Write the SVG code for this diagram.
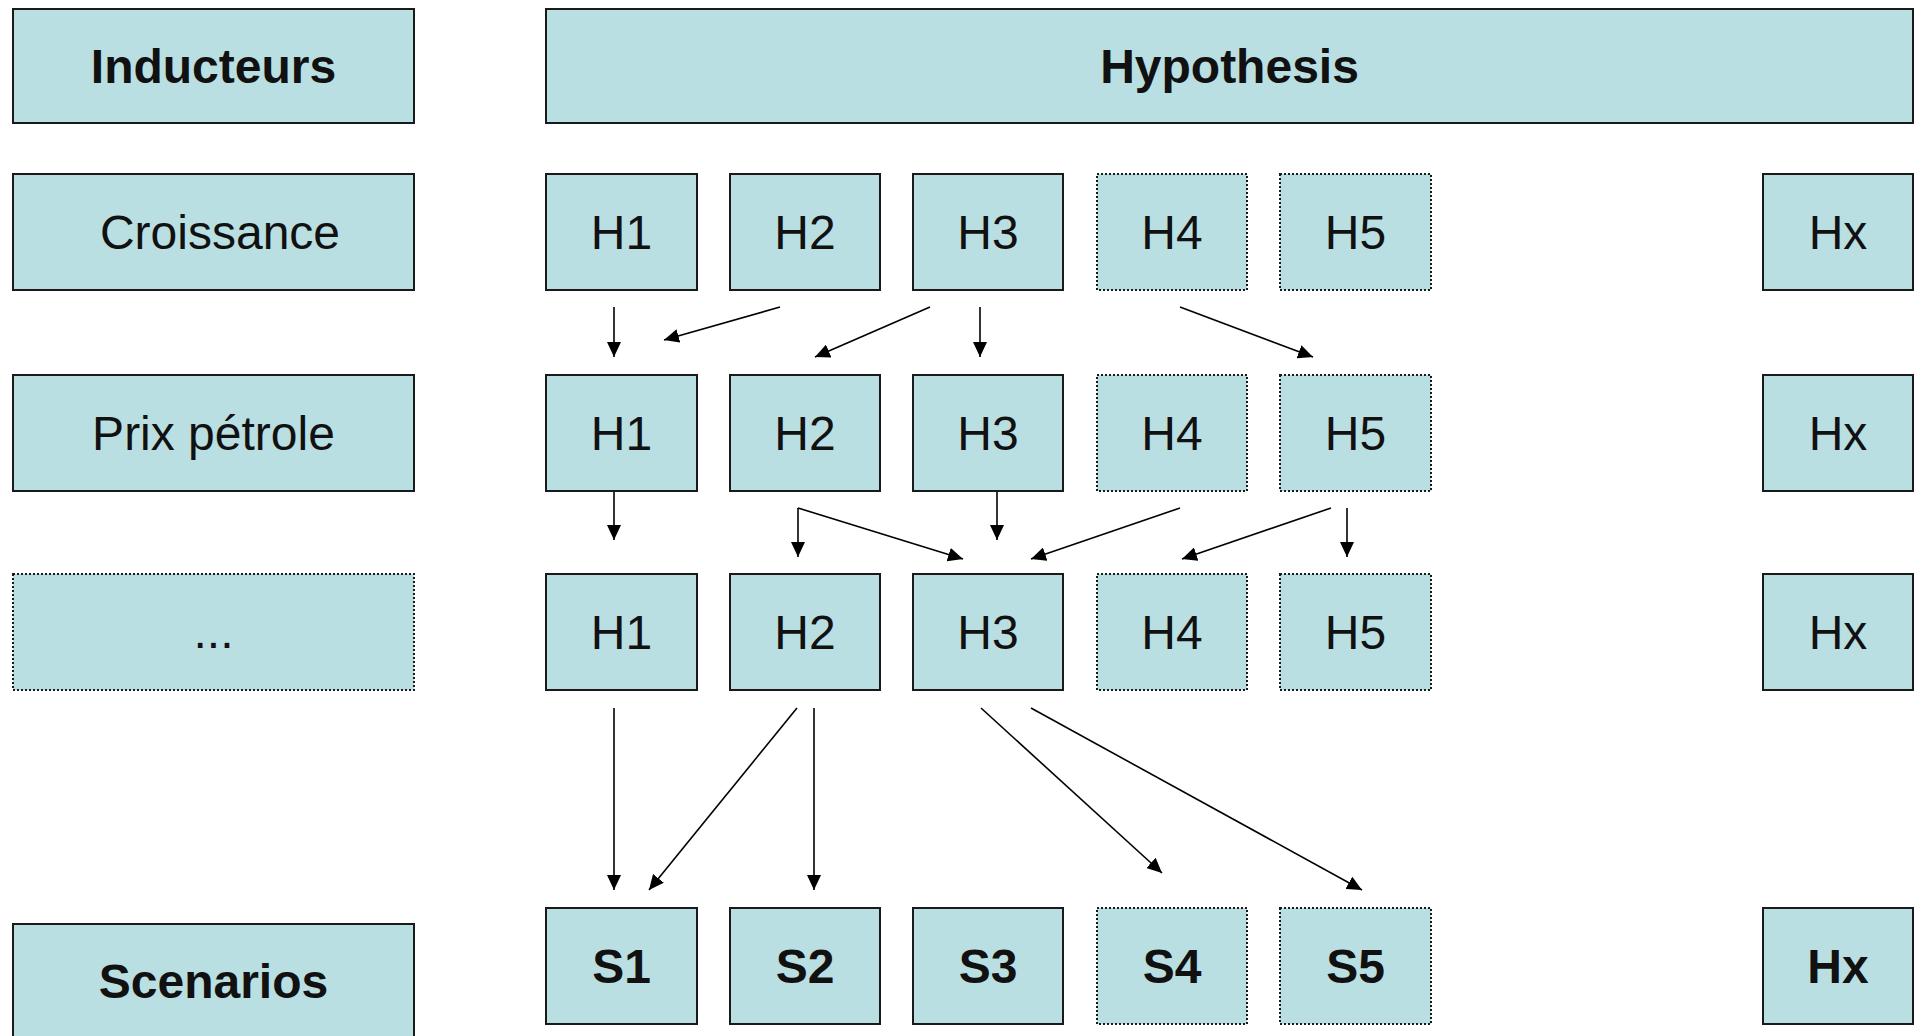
<svg xmlns="http://www.w3.org/2000/svg" width="1925" height="1036" viewBox="0 0 1925 1036">
<style>
.box{fill:#BADFE2;stroke:#1a1a1a;stroke-width:2}
.dot{fill:#BADFE2;stroke:#1a1a1a;stroke-width:2;stroke-dasharray:2 2}
.t{font-family:"Liberation Sans",Arial,sans-serif;font-size:48px;fill:#111;text-anchor:middle}
.b{font-weight:bold}
.c{fill:none;stroke:#000;stroke-width:1.6}
</style>
<defs>
<marker id="ah" markerUnits="userSpaceOnUse" markerWidth="16" markerHeight="14" refX="15" refY="7" orient="auto">
<path d="M0,0 L15,7 L0,14 z" fill="#000"/>
</marker>
</defs>
<rect width="1925" height="1036" fill="#fff"/>

<g id="inducteurs"><rect class="box" x="13" y="9" width="401" height="114"/><text class="t b" x="213.5" y="83">Inducteurs</text></g>
<g id="hypothesis"><rect class="box" x="546" y="9" width="1367" height="114"/><text class="t b" x="1229.5" y="83">Hypothesis</text></g>

<g id="croissance"><rect class="box" x="13" y="174" width="401" height="116"/><text class="t" x="220" y="249">Croissance</text></g>
<g id="r1h1"><rect class="box" x="546" y="174" width="151" height="116"/><text class="t" x="621.5" y="249">H1</text></g>
<g id="r1h2"><rect class="box" x="730" y="174" width="150" height="116"/><text class="t" x="805" y="249">H2</text></g>
<g id="r1h3"><rect class="box" x="913" y="174" width="150" height="116"/><text class="t" x="988" y="249">H3</text></g>
<g id="r1h4"><rect class="dot" x="1097" y="174" width="150" height="116"/><text class="t" x="1172" y="249">H4</text></g>
<g id="r1h5"><rect class="dot" x="1280" y="174" width="151" height="116"/><text class="t" x="1355.5" y="249">H5</text></g>
<g id="r1hx"><rect class="box" x="1763" y="174" width="150" height="116"/><text class="t" x="1838" y="249">Hx</text></g>

<g id="prix"><rect class="box" x="13" y="375" width="401" height="116"/><text class="t" x="213.5" y="450">Prix pétrole</text></g>
<g id="r2h1"><rect class="box" x="546" y="375" width="151" height="116"/><text class="t" x="621.5" y="450">H1</text></g>
<g id="r2h2"><rect class="box" x="730" y="375" width="150" height="116"/><text class="t" x="805" y="450">H2</text></g>
<g id="r2h3"><rect class="box" x="913" y="375" width="150" height="116"/><text class="t" x="988" y="450">H3</text></g>
<g id="r2h4"><rect class="dot" x="1097" y="375" width="150" height="116"/><text class="t" x="1172" y="450">H4</text></g>
<g id="r2h5"><rect class="dot" x="1280" y="375" width="151" height="116"/><text class="t" x="1355.5" y="450">H5</text></g>
<g id="r2hx"><rect class="box" x="1763" y="375" width="150" height="116"/><text class="t" x="1838" y="450">Hx</text></g>

<g id="etc"><rect class="dot" x="13" y="574" width="401" height="116"/><text class="t" x="213.5" y="648">...</text></g>
<g id="r3h1"><rect class="box" x="546" y="574" width="151" height="116"/><text class="t" x="621.5" y="649">H1</text></g>
<g id="r3h2"><rect class="box" x="730" y="574" width="150" height="116"/><text class="t" x="805" y="649">H2</text></g>
<g id="r3h3"><rect class="box" x="913" y="574" width="150" height="116"/><text class="t" x="988" y="649">H3</text></g>
<g id="r3h4"><rect class="dot" x="1097" y="574" width="150" height="116"/><text class="t" x="1172" y="649">H4</text></g>
<g id="r3h5"><rect class="dot" x="1280" y="574" width="151" height="116"/><text class="t" x="1355.5" y="649">H5</text></g>
<g id="r3hx"><rect class="box" x="1763" y="574" width="150" height="116"/><text class="t" x="1838" y="649">Hx</text></g>

<g id="scenarios"><rect class="box" x="13" y="924" width="401" height="130"/><text class="t b" x="213.5" y="998">Scenarios</text></g>
<g id="s1"><rect class="box" x="546" y="908" width="151" height="116"/><text class="t b" x="621.5" y="983">S1</text></g>
<g id="s2"><rect class="box" x="730" y="908" width="150" height="116"/><text class="t b" x="805" y="983">S2</text></g>
<g id="s3"><rect class="box" x="913" y="908" width="150" height="116"/><text class="t b" x="988" y="983">S3</text></g>
<g id="s4"><rect class="dot" x="1097" y="908" width="150" height="116"/><text class="t b" x="1172" y="983">S4</text></g>
<g id="s5"><rect class="dot" x="1280" y="908" width="151" height="116"/><text class="t b" x="1355.5" y="983">S5</text></g>
<g id="shx"><rect class="box" x="1763" y="908" width="150" height="116"/><text class="t b" x="1838" y="983">Hx</text></g>

<g id="connectors">
<path class="c" marker-end="url(#ah)" d="M614,307 L614,357"/>
<path class="c" marker-end="url(#ah)" d="M780,307 L664,340"/>
<path class="c" marker-end="url(#ah)" d="M930,307 L815,357"/>
<path class="c" marker-end="url(#ah)" d="M980,307 L980,357"/>
<path class="c" marker-end="url(#ah)" d="M1180,307 L1313,357"/>
<path class="c" marker-end="url(#ah)" d="M614,492 L614,540"/>
<path class="c" marker-end="url(#ah)" d="M798,508 L798,557"/>
<path class="c" marker-end="url(#ah)" d="M798,508 L963,559"/>
<path class="c" marker-end="url(#ah)" d="M997,492 L997,540"/>
<path class="c" marker-end="url(#ah)" d="M1180,508 L1031,559"/>
<path class="c" marker-end="url(#ah)" d="M1331,508 L1182,559"/>
<path class="c" marker-end="url(#ah)" d="M1347,508 L1347,557"/>
<path class="c" marker-end="url(#ah)" d="M614,708 L614,890"/>
<path class="c" marker-end="url(#ah)" d="M797,708 L649,890"/>
<path class="c" marker-end="url(#ah)" d="M814,708 L814,890"/>
<path class="c" marker-end="url(#ah)" d="M981,708 L1162,873"/>
<path class="c" marker-end="url(#ah)" d="M1031,708 L1362,890"/>
</g>
</svg>
